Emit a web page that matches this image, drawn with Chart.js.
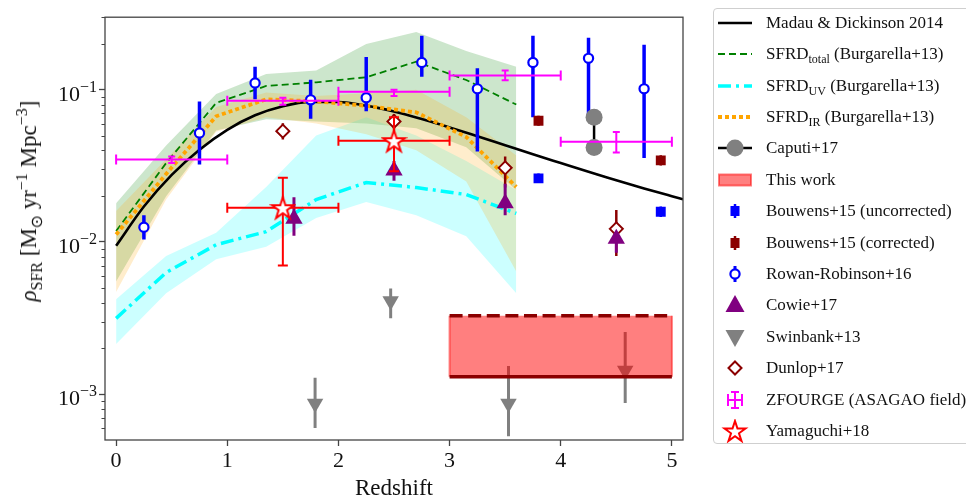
<!DOCTYPE html>
<html>
<head>
<meta charset="utf-8">
<script src="https://cdn.jsdelivr.net/npm/chart.js@4.4.1/dist/chart.umd.min.js"></script>
<style>
  html, body { margin: 0; padding: 0; background: #fff; }
  #wrap { position: relative; width: 966px; height: 500px; overflow: hidden; }
  #chart { position: absolute; left: 0; top: 0; }
  #ytitle {
    position: absolute; left: 29px; top: 201px;
    transform: translate(-50%, -50%) rotate(-90deg);
    white-space: nowrap; font: 23px "Liberation Serif", serif; color: #111;
  }
  #ytitle sub, #ytitle sup { font-size: 16px; line-height: 0; }
  .ytick {
    position: absolute; width: 60px; text-align: right; line-height: 22px; height: 22px;
    font: 22px "Liberation Serif", serif; color: #111; white-space: nowrap;
  }
  .ytick sup { font-size: 16px; line-height: 0; vertical-align: 9px; }
  #legend {
    position: absolute; left: 713px; top: 8px; width: 275px; height: 434px;
    border: 1px solid #cfcfcf; border-radius: 4px; background: #fff;
    font: 17px "Liberation Serif", serif; color: #111;
  }
  .row { position: absolute; left: 0; height: 24px; display: flex; align-items: center; white-space: nowrap; }
  .row svg { margin-left: 1px; }
  .row span { margin-left: 11px; }
  .row sub { font-size: 12px; line-height: 0; }
</style>
</head>
<body>
<div id="wrap">
  <canvas id="chart" width="966" height="500"></canvas>
  <div id="ytitle"><i>ρ</i><sub>SFR</sub> [M<sub>⊙</sub> yr<sup>−1</sup> Mpc<sup>−3</sup>]</div>
  <div id="legend"></div>
</div>
<script>
// ticks
const xTicks = [0, 1, 2, 3, 4, 5];
const yMajor = [1e-3, 1e-2, 1e-1];
const yMajorExp = ["−3", "−2", "−1"];
const yMinor = [6e-4, 7e-4, 8e-4, 9e-4, 2e-3, 3e-3, 4e-3, 5e-3, 6e-3, 7e-3, 8e-3, 9e-3,
  2e-2, 3e-2, 4e-2, 5e-2, 6e-2, 7e-2, 8e-2, 9e-2, 2e-1, 3e-1];

// Madau & Dickinson 2014
const mdZ = [0, 0.25, 0.5, 0.75, 1, 1.25, 1.5, 1.75, 2, 2.25, 2.5, 2.75, 3, 3.25, 3.5, 3.75, 4, 4.25, 4.5, 4.75, 5, 5.1];
const mdSfrd = [0.00945, 0.0171, 0.0276, 0.0404, 0.0546, 0.068, 0.0781, 0.0833, 0.0831, 0.0787, 0.072, 0.0642,
  0.0566, 0.0495, 0.0432, 0.0377, 0.033, 0.0289, 0.0255, 0.0225, 0.02, 0.0191];

// Burgarella+13 (total / UV / IR, with ranges)
const burgZ = [0, 0.45, 0.9, 1.35, 1.8, 2.25, 2.7, 3.15, 3.6];
const totMid = [0.0118, 0.033, 0.082, 0.106, 0.112, 0.121, 0.153, 0.116, 0.08];
const totHi = [0.018, 0.043, 0.094, 0.127, 0.134, 0.2, 0.24, 0.18, 0.142];
const totLo = [0.0055, 0.02, 0.054, 0.064, 0.062, 0.06, 0.056, 0.042, 0.022];
const uvMid = [0.00315, 0.0063, 0.0096, 0.0117, 0.019, 0.0246, 0.0228, 0.0205, 0.0154];
const uvHi = [0.0042, 0.0081, 0.0115, 0.023, 0.05, 0.066, 0.05, 0.034, 0.022];
const uvLo = [0.00214, 0.0046, 0.0077, 0.0093, 0.0144, 0.0183, 0.015, 0.0109, 0.0046];
const irMid = [0.0112, 0.028, 0.067, 0.0866, 0.084, 0.0785, 0.0711, 0.049, 0.023];
const irHi = [0.016, 0.035, 0.077, 0.096, 0.091, 0.095, 0.1, 0.066, 0.037];
const irLo = [0.0047, 0.019, 0.053, 0.066, 0.06, 0.051, 0.04, 0.025, 0.0064];

// Rowan-Robinson+16
const rrZ = [0.25, 0.75, 1.25, 1.75, 2.25, 2.75, 3.25, 3.75, 4.25, 4.75];
const rrVal = [0.0125, 0.0521, 0.111, 0.0859, 0.0888, 0.151, 0.1015, 0.151, 0.161, 0.1015];
const rrLo = [0.0104, 0.0323, 0.0866, 0.0645, 0.0722, 0.122, 0.0393, 0.0661, 0.066, 0.0356];
const rrHi = [0.015, 0.0837, 0.142, 0.1165, 0.164, 0.227, 0.1385, 0.227, 0.22, 0.198];

// Bouwens+15
const bwZ = [3.8, 4.9];
const bwUnc = [0.0262, 0.0158];
const bwUncLo = [0.0244, 0.0146];
const bwUncHi = [0.0282, 0.0171];
const bwCor = [0.0626, 0.0344];
const bwCorLo = [0.058, 0.0318];
const bwCorHi = [0.0676, 0.0372];

// Caputi+17
const cpZ = [4.3, 4.3];
const cpVal = [0.0661, 0.0418];

// Cowie+17
const cwZ = [1.6, 2.5, 3.5, 4.5];
const cwVal = [0.0142, 0.0295, 0.018, 0.0105];
const cwLo = [0.011, 0.0253, 0.015, 0.0085];
const cwHi = [0.0197, 0.034, 0.0241, 0.0135];

// Swinbank+13
const swZ = [1.79, 2.47, 3.53, 4.58];
const swVal = [0.00087, 0.0041, 0.00087, 0.00143];
const swLo = [0.0006, 0.00315, 0.00053, 0.000875];
const swHi = [0.00128, 0.00494, 0.00153, 0.00256];

// Dunlop+17
const dnZ = [1.5, 2.5, 3.5, 4.5];
const dnVal = [0.0535, 0.062, 0.0307, 0.0122];
const dnLo = [0.0472, 0.055, 0.0228, 0.0081];
const dnHi = [0.0604, 0.0694, 0.0365, 0.0162];

// ZFOURGE (ASAGAO field)
const zfZ = [0.5, 1.5, 2.5, 3.5, 4.5];
const zfZlo = [0, 1, 2, 3, 4];
const zfZhi = [1, 2, 3, 4, 5];
const zfVal = [0.0348, 0.0846, 0.0971, 0.1243, 0.0456];
const zfLo = [0.0331, 0.0797, 0.0911, 0.1154, 0.0388];
const zfHi = [0.0365, 0.0888, 0.1, 0.134, 0.0529];

// Yamaguchi+18
const ymZ = [1.5, 2.5];
const ymZlo = [1, 2];
const ymZhi = [2, 3];
const ymVal = [0.0168, 0.0463];
const ymLo = [0.00702, 0.0292];
const ymHi = [0.0264, 0.066];

// This work
const twZ = [3, 5];
const twLo = 0.0013;
const twHi = 0.00328;

// helpers to turn arrays into chart.js points
const pts = (xs, ys) => xs.map((x, i) => ({ x: x, y: ys[i] }));
function vBars(xs, lo, hi) {
  const out = [];
  xs.forEach((x, i) => out.push({ x: x, y: lo[i] }, { x: x, y: hi[i] }, { x: x, y: null }));
  return out;
}
function hBars(xlo, xhi, ys) {
  const out = [];
  ys.forEach((y, i) => out.push({ x: xlo[i], y: y }, { x: xhi[i], y: y }, { x: xhi[i], y: null }));
  return out;
}

function starImage(size, color) {
  const c = document.createElement("canvas");
  c.width = c.height = size;
  const g = c.getContext("2d");
  const R = size / 2 - 2, r = R * 0.382, cx = size / 2, cy = size / 2 + 1;
  g.beginPath();
  for (let k = 0; k < 10; k++) {
    const a = -Math.PI / 2 + k * Math.PI / 5;
    const rr = k % 2 ? r : R;
    g.lineTo(cx + rr * Math.cos(a), cy + rr * Math.sin(a));
  }
  g.closePath();
  g.fillStyle = "#fff";
  g.fill();
  g.lineWidth = 2;
  g.strokeStyle = color;
  g.stroke();
  return c;
}

const line = (data, color, width, extra) => Object.assign({
  type: "line", data: data, borderColor: color, borderWidth: width,
  pointRadius: 0, fill: false, tension: 0, spanGaps: false, borderCapStyle: "butt",
}, extra || {});
const band = (data, color, order, fill) => ({
  type: "line", data: data, borderWidth: 0, borderColor: "rgba(0,0,0,0)",
  backgroundColor: color, pointRadius: 0, fill: fill, order: order, tension: 0,
});
const marks = (data, style, radius, bg, border, bw, order, extra) => Object.assign({
  type: "line", data: data, showLine: false, pointStyle: style, pointRadius: radius,
  pointBackgroundColor: bg, pointBorderColor: border, pointBorderWidth: bw, order: order,
}, extra || {});

const datasets = [
  // bands
  band(pts(burgZ, totHi), "rgba(0,128,0,0.2)", 30, "+1"),
  band(pts(burgZ, totLo), "rgba(0,0,0,0)", 30, false),
  band(pts(burgZ, uvHi), "rgba(0,255,255,0.2)", 29, "+1"),
  band(pts(burgZ, uvLo), "rgba(0,0,0,0)", 29, false),
  band(pts(burgZ, irHi), "rgba(255,165,0,0.2)", 28, "+1"),
  band(pts(burgZ, irLo), "rgba(0,0,0,0)", 28, false),
  // this work box
  line([{ x: twZ[0], y: twHi }, { x: twZ[1], y: twHi }], "#8b0000", 3.5,
    { fill: "+1", backgroundColor: "rgba(255,0,0,0.5)", borderDash: [13, 5.6], order: 10 }),
  line([{ x: twZ[0], y: twLo }, { x: twZ[1], y: twLo }], "#8b0000", 3.5, { order: 9 }),
  line(vBars(twZ, [twLo, twLo], [twHi, twHi]), "rgba(255,0,0,0.5)", 2, { order: 10 }),
  // model curves
  line(pts(mdZ, mdSfrd), "#000", 2.6, { cubicInterpolationMode: "monotone", order: 24 }),
  line(pts(burgZ, totMid), "green", 1.8, { borderDash: [7, 4], order: 23 }),
  line(pts(burgZ, uvMid), "cyan", 3.5, { borderDash: [13, 5, 3, 5], order: 22 }),
  line(pts(burgZ, irMid), "orange", 3.8, { borderDash: [4, 3], order: 21 }),
  // Swinbank+13
  line(vBars(swZ, swLo, swHi), "grey", 3, { order: 12 }),
  marks(pts(swZ, swVal), "triangle", 9.5, "grey", "grey", 0, 11, { pointRotation: 180 }),
  // Caputi+17
  line(pts(cpZ, cpVal), "#000", 2.5, { order: 8 }),
  marks(pts(cpZ, cpVal), "circle", 8.5, "grey", "grey", 0, 7),
  // Bouwens+15
  line(vBars(bwZ, bwUncLo, bwUncHi), "blue", 2.5, { order: 8 }),
  marks(pts(bwZ, bwUnc), "rect", 7, "blue", "blue", 0, 7),
  line(vBars(bwZ, bwCorLo, bwCorHi), "#8b0000", 2.5, { order: 8 }),
  marks(pts(bwZ, bwCor), "rect", 7, "#8b0000", "#8b0000", 0, 7),
  // Rowan-Robinson+16
  line(vBars(rrZ, rrLo, rrHi), "blue", 3.5, { order: 8 }),
  marks(pts(rrZ, rrVal), "circle", 4.6, "#fff", "blue", 2.2, 7),
  // Cowie+17
  line(vBars(cwZ, cwLo, cwHi), "purple", 3, { order: 6 }),
  marks(pts(cwZ, cwVal), "triangle", 10, "purple", "purple", 0, 5),
  // Dunlop+17
  line(vBars(dnZ, dnLo, dnHi), "#8b0000", 2.5, { order: 6 }),
  marks(pts(dnZ, dnVal), "rectRot", 6.5, "#fff", "#8b0000", 2, 5),
  // ZFOURGE
  line(hBars(zfZlo, zfZhi, zfVal), "magenta", 2,
    { order: 4, pointStyle: "line", pointRadius: 5, pointRotation: 90, pointBorderColor: "magenta", pointBorderWidth: 2 }),
  line(vBars(zfZ, zfLo, zfHi), "magenta", 2,
    { order: 4, pointStyle: "line", pointRadius: 3.5, pointBorderColor: "magenta", pointBorderWidth: 2 }),
  // Yamaguchi+18
  line(hBars(ymZlo, ymZhi, ymVal), "red", 2,
    { order: 3, pointStyle: "line", pointRadius: 5, pointRotation: 90, pointBorderColor: "red", pointBorderWidth: 2 }),
  line(vBars(ymZ, ymLo, ymHi), "red", 2,
    { order: 3, pointStyle: "line", pointRadius: 5, pointBorderColor: "red", pointBorderWidth: 2 }),
  marks(pts(ymZ, ymVal), starImage(27, "red"), 10, "#fff", "red", 0, 2),
];

// frame round the plot area + short minor ticks on the y axis
const framePlugin = {
  id: "frame",
  afterDraw(chart) {
    const { ctx, chartArea: a } = chart;
    const y = chart.scales.y;
    ctx.save();
    ctx.strokeStyle = "#444";
    ctx.lineWidth = 1.3;
    ctx.strokeRect(a.left, a.top, a.right - a.left, a.bottom - a.top);
    ctx.lineWidth = 1;
    yMinor.forEach((v) => {
      const py = Math.round(y.getPixelForValue(v)) + 0.5;
      ctx.beginPath();
      ctx.moveTo(a.left - 3.5, py);
      ctx.lineTo(a.left, py);
      ctx.stroke();
    });
    ctx.restore();
  },
};

const font = { family: "'Liberation Serif', serif", size: 22 };

const chart = new Chart(document.getElementById("chart"), {
  type: "line",
  data: { datasets: datasets },
  options: {
    responsive: false,
    animation: false,
    events: [],
    layout: { padding: { top: 8, right: 283, left: 0, bottom: 0 } },
    plugins: { legend: { display: false }, tooltip: { enabled: false } },
    scales: {
      x: {
        type: "linear",
        min: -0.1,
        max: 5.1,
        afterFit: (s) => { s.height = 60; },
        afterBuildTicks: (s) => { s.ticks = xTicks.map((v) => ({ value: v, major: true })); },
        ticks: { font: font, color: "#111", padding: 2, autoSkip: false, maxRotation: 0,
          callback: (v) => String(v) },
        grid: { drawOnChartArea: false, drawTicks: true, tickLength: 6, tickColor: "#444", tickWidth: 1.3 },
        border: { display: false },
        title: { display: true, text: "Redshift", color: "#111", padding: 0,
          font: { family: "'Liberation Serif', serif", size: 23, lineHeight: 1.0 } },
      },
      y: {
        type: "logarithmic",
        min: 5e-4,
        max: 0.3,
        afterFit: (s) => { s.width = 105; },
        afterBuildTicks: (s) => { s.ticks = yMajor.map((v) => ({ value: v, major: true })); },
        ticks: { font: font, color: "#111", padding: 4, autoSkip: false, callback: () => "" },
        grid: { drawOnChartArea: false, drawTicks: true, tickLength: 6, tickColor: "#444", tickWidth: 1.3 },
        border: { display: false },
      },
    },
  },
  plugins: [framePlugin],
});

// y tick labels as html (10 with a raised exponent), placed by the y scale
const wrap = document.getElementById("wrap");
yMajor.forEach((v, i) => {
  const py = chart.scales.y.getPixelForValue(v);
  const d = document.createElement("div");
  d.className = "ytick";
  d.style.left = (chart.chartArea.left - 8 - 60) + "px";
  d.style.top = (py - 9) + "px";
  d.innerHTML = "10<sup>" + yMajorExp[i] + "</sup>";
  wrap.appendChild(d);
});

// legend (html so the sub-scripts stay as text)
const sv = (inner) => '<svg width="40" height="24" viewBox="0 0 40 24">' + inner + "</svg>";
const starPath = (() => {
  let p = "";
  for (let k = 0; k < 10; k++) {
    const a = -Math.PI / 2 + k * Math.PI / 5;
    const rr = k % 2 ? 4.2 : 11;
    p += (k ? "L" : "M") + (20 + rr * Math.cos(a)).toFixed(2) + " " + (13 + rr * Math.sin(a)).toFixed(2);
  }
  return p + "Z";
})();
const legendEntries = [
  ["Madau &amp; Dickinson 2014", sv('<line x1="3" y1="12" x2="37" y2="12" stroke="#000" stroke-width="2.6"/>')],
  ["SFRD<sub>total</sub> (Burgarella+13)", sv('<line x1="3" y1="12" x2="37" y2="12" stroke="green" stroke-width="1.8" stroke-dasharray="7 4"/>')],
  ["SFRD<sub>UV</sub> (Burgarella+13)", sv('<line x1="3" y1="12" x2="37" y2="12" stroke="cyan" stroke-width="3.5" stroke-dasharray="13 5 3 5"/>')],
  ["SFRD<sub>IR</sub> (Burgarella+13)", sv('<line x1="3" y1="12" x2="37" y2="12" stroke="orange" stroke-width="3.8" stroke-dasharray="4 3"/>')],
  ["Caputi+17", sv('<line x1="3" y1="12" x2="37" y2="12" stroke="#000" stroke-width="2.5"/><circle cx="20" cy="12" r="8.5" fill="grey"/>')],
  ["This work", sv('<rect x="4" y="6.5" width="32" height="11" fill="#ff8080" stroke="rgba(255,0,0,0.5)" stroke-width="2"/>')],
  ["Bouwens+15 (uncorrected)", sv('<line x1="20" y1="5" x2="20" y2="19" stroke="blue" stroke-width="2.5"/><rect x="15.5" y="7" width="9" height="10" fill="blue"/>')],
  ["Bouwens+15 (corrected)", sv('<line x1="20" y1="5" x2="20" y2="19" stroke="#8b0000" stroke-width="2.5"/><rect x="15.5" y="7" width="9" height="10" fill="#8b0000"/>')],
  ["Rowan-Robinson+16", sv('<line x1="20" y1="4" x2="20" y2="20" stroke="blue" stroke-width="3"/><circle cx="20" cy="12" r="4.6" fill="#fff" stroke="blue" stroke-width="2.2"/>')],
  ["Cowie+17", sv('<polygon points="20,2 29.5,19 10.5,19" fill="purple"/>')],
  ["Swinbank+13", sv('<polygon points="20,22 29.5,5 10.5,5" fill="grey"/>')],
  ["Dunlop+17", sv('<polygon points="20,5.5 26.5,12 20,18.5 13.5,12" fill="#fff" stroke="#8b0000" stroke-width="2"/>')],
  ["ZFOURGE (ASAGAO field)", sv('<g stroke="magenta" stroke-width="2"><line x1="13" y1="12" x2="27" y2="12"/><line x1="13" y1="6" x2="13" y2="18"/><line x1="27" y1="6" x2="27" y2="18"/><line x1="20" y1="4" x2="20" y2="20"/><line x1="16" y1="4" x2="24" y2="4"/><line x1="16" y1="20" x2="24" y2="20"/></g>')],
  ["Yamaguchi+18", sv('<path d="' + starPath + '" fill="#fff" stroke="red" stroke-width="2"/>')],
];
const legend = document.getElementById("legend");
legendEntries.forEach(([label, symbol], i) => {
  const row = document.createElement("div");
  row.className = "row";
  row.style.top = (13.7 + 31.4 * i - 12) + "px";
  row.innerHTML = symbol + "<span>" + label + "</span>";
  legend.appendChild(row);
});
</script>
</body>
</html>
